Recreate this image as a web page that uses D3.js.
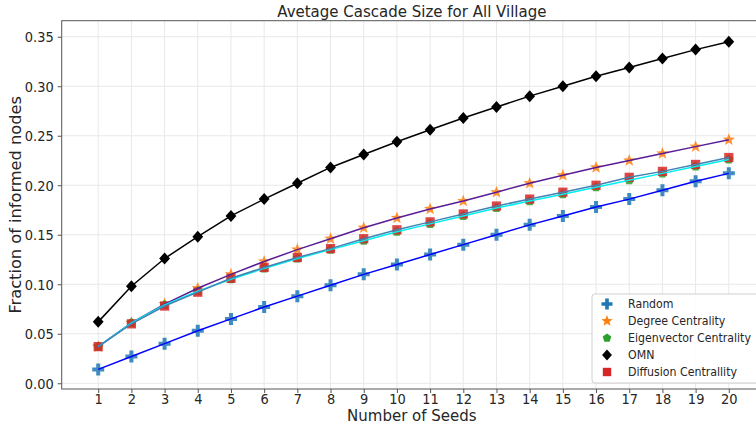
<!DOCTYPE html>
<html>
<head>
<meta charset="utf-8">
<script src="https://cdn.jsdelivr.net/npm/d3@7"></script>
<style>
  body { margin: 0; background: #fff; }
  text { font-family: "DejaVu Sans", sans-serif; fill: #262626; }
</style>
</head>
<body>
<div id="chart"></div>
<script>
const width = 756;
const height = 425;

const seeds = d3.range(1, 21);
const seriesNames = ['Random', 'Degree Centrality', 'Eigenvector Centrality', 'OMN', 'Diffusion Centrallity'];

const random = [0.014, 0.027, 0.040, 0.053, 0.065, 0.077, 0.088, 0.099, 0.110, 0.120,
                0.130, 0.140, 0.150, 0.160, 0.169, 0.178, 0.186, 0.195, 0.204, 0.212];
const degree = [0.037, 0.061, 0.080, 0.096, 0.110, 0.123, 0.135, 0.146, 0.157, 0.167,
                0.176, 0.184, 0.193, 0.202, 0.210, 0.218, 0.225, 0.232, 0.239, 0.246];
const eigen = [0.037, 0.061, 0.079, 0.093, 0.105, 0.116, 0.126, 0.135, 0.144, 0.153,
               0.161, 0.169, 0.177, 0.184, 0.191, 0.198, 0.205, 0.212, 0.219, 0.226];
const omn = [0.062, 0.098, 0.126, 0.148, 0.169, 0.186, 0.202, 0.218, 0.231, 0.244,
             0.256, 0.268, 0.279, 0.290, 0.300, 0.310, 0.319, 0.328, 0.337, 0.345];
const diffusion = [0.037, 0.060, 0.078, 0.092, 0.106, 0.117, 0.127, 0.136, 0.146, 0.155,
                   0.163, 0.171, 0.179, 0.186, 0.193, 0.200, 0.208, 0.214, 0.221, 0.228];

const yTicks = [0, 0.05, 0.10, 0.15, 0.20, 0.25, 0.30, 0.35];

const series = [
    { name: seriesNames[0], values: random, line: '#0000ff', fill: '#1f77b4', symbol: 'plus' },
    { name: seriesNames[1], values: degree, line: '#5a1d96', fill: '#ff7f0e', symbol: 'star' },
    { name: seriesNames[2], values: eigen, line: '#00f0f0', fill: '#2ca02c', symbol: 'pentagon' },
    { name: seriesNames[3], values: omn, line: '#000000', fill: '#000000', symbol: 'diamond' },
    { name: seriesNames[4], values: diffusion, line: '#4682b4', fill: '#d62728', symbol: 'square' }
];

const plotLeft = 61.7, plotRight = 762, plotTop = 20.7, plotBottom = 389;
// the source image looks slightly taller than wide, stretch text a little
const sy = 1.08;

const x = d3.scaleLinear().domain([-0.1, 21]).range([plotLeft, plotRight]);
const y = d3.scaleLinear().domain([-0.0058, 0.3662]).range([plotBottom, plotTop]);

const svg = d3.select('#chart')
    .append('svg')
    .attr('width', width)
    .attr('height', height);

// grid
svg.append('g')
    .selectAll('line')
    .data(seeds)
    .enter()
    .append('line')
    .attr('x1', d => x(d)).attr('x2', d => x(d))
    .attr('y1', plotTop).attr('y2', plotBottom)
    .attr('stroke', '#e8e8e8');

svg.append('g')
    .selectAll('line')
    .data(yTicks)
    .enter()
    .append('line')
    .attr('x1', plotLeft).attr('x2', plotRight)
    .attr('y1', d => y(d)).attr('y2', d => y(d))
    .attr('stroke', '#e8e8e8');

// axes
const xAxis = svg.append('g')
    .attr('transform', `translate(0,${plotBottom})`)
    .call(d3.axisBottom(x).tickValues(seeds).tickSize(4).tickPadding(3).tickFormat(d3.format('d')));

const yAxis = svg.append('g')
    .attr('transform', `translate(${plotLeft},0)`)
    .call(d3.axisLeft(y).tickValues(yTicks).tickSize(4).tickPadding(4).tickFormat(d3.format('.2f')));

[xAxis, yAxis].forEach(g => {
    g.select('.domain').remove();
    g.selectAll('line').attr('stroke', '#555');
    g.selectAll('text').style('font-size', '13px').attr('fill', '#262626');
});

xAxis.selectAll('text')
    .attr('dy', null)
    .attr('y', 0)
    .attr('transform', `translate(0,14.5) scale(1,${sy})`);

yAxis.selectAll('text')
    .attr('dy', null)
    .attr('x', 0)
    .attr('transform', `translate(-8,${13 * 0.36 * sy}) scale(1,${sy})`);

// spines
svg.append('rect')
    .attr('x', plotLeft).attr('y', plotTop)
    .attr('width', plotRight - plotLeft).attr('height', plotBottom - plotTop)
    .attr('fill', 'none')
    .attr('stroke', '#555')
    .attr('stroke-width', 1);

// marker shapes
function markerPath(symbol, size) {
    if (symbol === 'plus') {
        const a = size / 2, b = size / 6;
        return `M${-b},${-a}H${b}V${-b}H${a}V${b}H${b}V${a}H${-b}V${b}H${-a}V${-b}H${-b}Z`;
    }
    if (symbol === 'diamond') {
        const a = size / 2;
        return `M0,${-a}L${a * 0.9},0L0,${a}L${-a * 0.9},0Z`;
    }
    if (symbol === 'square') {
        const a = size * 0.42;
        return `M${-a},${-a}H${a}V${a}H${-a}Z`;
    }
    const n = 5;
    const r = size / 2;
    if (symbol === 'star') {
        const pts = d3.range(2 * n).map(i => {
            const t = -Math.PI / 2 + i * Math.PI / n;
            const rr = i % 2 ? r * 0.42 : r;
            return [rr * Math.cos(t), rr * Math.sin(t)];
        });
        return 'M' + pts.join('L') + 'Z';
    }
    const pts = d3.range(n).map(i => {
        const t = -Math.PI / 2 + i * 2 * Math.PI / n;
        return [r * Math.cos(t), r * Math.sin(t)];
    });
    return 'M' + pts.join('L') + 'Z';
}

const markerSize = { plus: 12, star: 13, pentagon: 10, diamond: 12, square: 11 };

const line = d3.line()
    .x((d, i) => x(seeds[i]))
    .y(d => y(d));

const plot = svg.append('g');

series.forEach(s => {
    plot.append('g')
        .selectAll('path')
        .data(s.values)
        .enter()
        .append('path')
        .attr('transform', (d, i) => `translate(${x(seeds[i])},${y(d)})`)
        .attr('d', markerPath(s.symbol, markerSize[s.symbol]))
        .attr('fill', s.fill)
        .attr('opacity', s.name === 'OMN' ? 1 : 0.85);
});

series.forEach(s => {
    plot.append('path')
        .datum(s.values)
        .attr('d', line)
        .attr('fill', 'none')
        .attr('stroke', s.line)
        .attr('stroke-width', 1.5);
});

// title and labels
svg.append('text')
    .attr('transform', `translate(${(plotLeft + plotRight) / 2},17) scale(1,${sy})`)
    .attr('text-anchor', 'middle')
    .style('font-size', '15px')
    .text('Avetage Cascade Size for All Village');

svg.append('text')
    .attr('x', (plotLeft + plotRight) / 2)
    .attr('y', 421)
    .attr('text-anchor', 'middle')
    .style('font-size', '15px')
    .text('Number of Seeds');

svg.append('text')
    .attr('transform', `translate(21,${(plotTop + plotBottom) / 2}) rotate(-90) scale(${sy},1)`)
    .attr('text-anchor', 'middle')
    .style('font-size', '15px')
    .text('Fraction of informed nodes');

// legend
const legend = svg.append('g').attr('transform', 'translate(592,294)');

legend.append('rect')
    .attr('width', 170).attr('height', 89)
    .attr('rx', 3)
    .attr('fill', '#fff')
    .attr('fill-opacity', 0.9)
    .attr('stroke', '#d0d0d0');

const item = legend.selectAll('.item')
    .data(series)
    .enter()
    .append('g')
    .attr('transform', (d, i) => `translate(15,${10 + i * 17})`);

item.append('path')
    .attr('d', d => markerPath(d.symbol, markerSize[d.symbol] - 1))
    .attr('fill', d => d.fill);

item.append('text')
    .attr('transform', `translate(21,4) scale(1,${sy})`)
    .style('font-size', '11px')
    .text(d => d.name);
</script>
</body>
</html>
